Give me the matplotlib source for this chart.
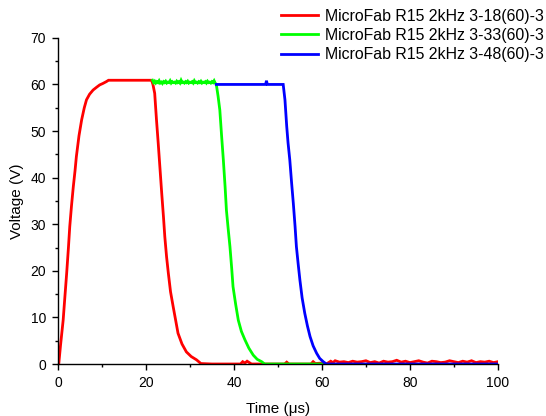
import matplotlib
matplotlib.use("Agg")
import matplotlib.pyplot as plt
from matplotlib.ticker import MultipleLocator

plt.rcParams['font.family'] = ['Liberation Sans', 'DejaVu Sans']

labels = ["MicroFab R15 2kHz 3-18(60)-3",
          "MicroFab R15 2kHz 3-33(60)-3",
          "MicroFab R15 2kHz 3-48(60)-3"]
colors = ["#ff0000", "#00ff00", "#0000ff"]

# Red trace (time in us, voltage in V)
red_t = [0.0, 0.2, 0.6, 1.2, 1.6, 2.0, 2.4, 2.7, 3.1, 3.5, 3.9, 4.2, 4.8, 5.4, 6.0, 6.5, 7.2, 8.0, 8.8,
         9.5, 10.2, 11.0, 11.5, 15.0, 21.3, 21.6, 22.0, 22.4, 22.8, 23.2, 23.6, 24.0, 24.3, 24.7, 25.1,
         25.6, 26.2, 26.8, 27.3, 28.2, 29.2, 30.3, 31.5, 32.5, 35.0, 38.0, 41.5, 42.0, 42.5, 43.0, 43.5,
         44.0, 46.0, 48.0, 50.0, 51.5, 52.0, 52.5, 55.0, 57.5, 58.0, 58.5, 60.0, 61.0, 62.0, 62.5, 63.0,
         64.0, 65.0, 66.0, 67.0, 68.0, 69.0, 70.0, 71.0, 72.0, 73.0, 74.0, 75.0, 76.0, 77.0, 78.0, 79.0,
         80.0, 81.0, 82.0, 83.0, 84.0, 85.0, 86.0, 87.0, 88.0, 89.0, 90.0, 91.0, 92.0, 93.0, 94.0, 95.0,
         96.0, 97.0, 98.0, 99.0, 100.0]
red_v = [0.0, 0.0, 4.0, 9.4, 14.5, 19.5, 25.0, 29.5, 34.0, 38.0, 41.5, 44.5, 49.0, 52.4, 55.0, 56.7, 57.9,
         58.8, 59.4, 59.9, 60.2, 60.6, 60.9, 60.9, 60.9, 60.0, 58.1, 52.5, 47.4, 42.0, 36.6, 31.5, 27.3,
         23.0, 19.5, 15.5, 12.3, 9.2, 6.6, 4.3, 2.6, 1.6, 0.9, 0.1, 0.0, 0.0, 0.0, 0.5, 0.2, 0.6, 0.3,
         0.0, 0.0, 0.0, 0.0, 0.0, 0.4, 0.0, 0.0, 0.0, 0.5, 0.1, 0.2, 0.0, 0.6, 0.3, 0.7, 0.4, 0.5, 0.3,
         0.6, 0.4, 0.5, 0.7, 0.3, 0.5, 0.2, 0.6, 0.4, 0.5, 0.8, 0.4, 0.6, 0.3, 0.5, 0.7, 0.4, 0.2, 0.6,
         0.5, 0.3, 0.4, 0.7, 0.5, 0.3, 0.6, 0.4, 0.7, 0.3, 0.5, 0.4, 0.6, 0.3, 0.5]

# Green trace
green_t = [21.5, 21.75, 22.0, 22.25, 22.5, 22.75, 23.0, 23.25, 23.5, 23.75, 24.0, 24.25, 24.5, 24.75,
           25.0, 25.25, 25.5, 25.75, 26.0, 26.25, 26.5, 26.75, 27.0, 27.25, 27.5, 27.75, 28.0, 28.25,
           28.5, 28.75, 29.0, 29.25, 29.5, 29.75, 30.0, 30.25, 30.5, 30.75, 31.0, 31.25, 31.5, 31.75,
           32.0, 32.25, 32.5, 32.75, 33.0, 33.25, 33.5, 33.75, 34.0, 34.25, 34.5, 34.75, 35.0, 35.25,
           35.5, 35.75, 36.0,
           36.4, 36.8, 37.2, 37.6, 38.0, 38.3, 38.7, 39.1, 39.5, 39.8, 40.4, 41.0, 41.7, 42.5, 43.4,
           44.4, 45.3, 46.3, 47.0, 50.0, 55.0, 60.0]
green_v = [60.9, 60.4, 60.7, 60.3, 60.6, 60.4, 60.8, 60.3, 60.5, 60.2, 60.6, 60.4, 60.7, 60.3,
           60.5, 60.4, 60.8, 60.3, 60.6, 60.4, 60.5, 60.3, 60.7, 60.4, 60.6, 60.3, 60.9, 60.4,
           60.5, 60.3, 60.6, 60.4, 60.7, 60.3, 60.5, 60.4, 60.6, 60.3, 60.8, 60.4, 60.5, 60.3,
           60.6, 60.4, 60.7, 60.3, 60.5, 60.4, 60.6, 60.3, 60.7, 60.4, 60.5, 60.3, 60.6, 60.4,
           60.8, 60.3, 60.0,
           57.5, 54.5, 49.0, 43.8, 38.0, 33.0, 29.0, 25.2, 20.5, 16.6, 12.8, 9.4, 7.0, 5.2, 3.4,
           1.9, 1.0, 0.5, 0.0, 0.0, 0.0, 0.0]

# Blue trace
blue_t = [36.0, 40.0, 44.0, 47.2, 47.4, 47.6, 50.0, 51.2, 51.6, 52.0, 52.3, 52.7, 53.1, 53.5, 53.9,
          54.2, 54.6, 55.0, 55.5, 56.1, 56.7, 57.3, 58.0, 58.8, 59.5, 60.3, 61.0, 70.0, 80.0, 90.0, 100.0]
blue_v = [60.0, 60.0, 60.0, 60.0, 60.8, 60.0, 60.0, 60.0, 56.7, 51.0, 47.5, 43.8, 39.0, 34.5, 29.5,
          25.2, 21.5, 18.0, 14.2, 10.9, 8.2, 5.9, 3.9, 2.3, 1.2, 0.5, 0.0, 0.0, 0.0, 0.0, 0.0]

fig = plt.figure(figsize=(5.46, 4.16), dpi=100)
ax = fig.add_axes([0.106, 0.125, 0.806, 0.784])

lines = []
for t, v, c, lab in [(red_t, red_v, colors[0], labels[0]),
                     (green_t, green_v, colors[1], labels[1]),
                     (blue_t, blue_v, colors[2], labels[2])]:
    ln, = ax.plot(t, v, color=c, lw=2.0, label=lab, solid_joinstyle='miter')
    lines.append(ln)

ax.set_xlim(0, 100)
ax.set_ylim(0, 70)
ax.xaxis.set_major_locator(MultipleLocator(20))
ax.xaxis.set_minor_locator(MultipleLocator(10))
ax.yaxis.set_major_locator(MultipleLocator(10))
ax.yaxis.set_minor_locator(MultipleLocator(5))
ax.spines['top'].set_visible(False)
ax.spines['right'].set_visible(False)
for s in ('left', 'bottom'):
    ax.spines[s].set_linewidth(1.0)
ax.tick_params(which='major', direction='out', length=4, width=1, labelsize=10, pad=4.5)
ax.tick_params(which='minor', direction='out', length=2.5, width=1)
ax.set_xlabel("Time (\u03bcs)", fontsize=11, labelpad=9)
ax.set_ylabel("Voltage (V)", fontsize=11, labelpad=5)

fig.legend(handles=lines, loc='upper right', bbox_to_anchor=(1.012, 1.0), frameon=False,
           fontsize=11.4, handlelength=2.3, handletextpad=0.45, labelspacing=0.27,
           borderaxespad=0.15)

fig.savefig("out.png", dpi=100)
